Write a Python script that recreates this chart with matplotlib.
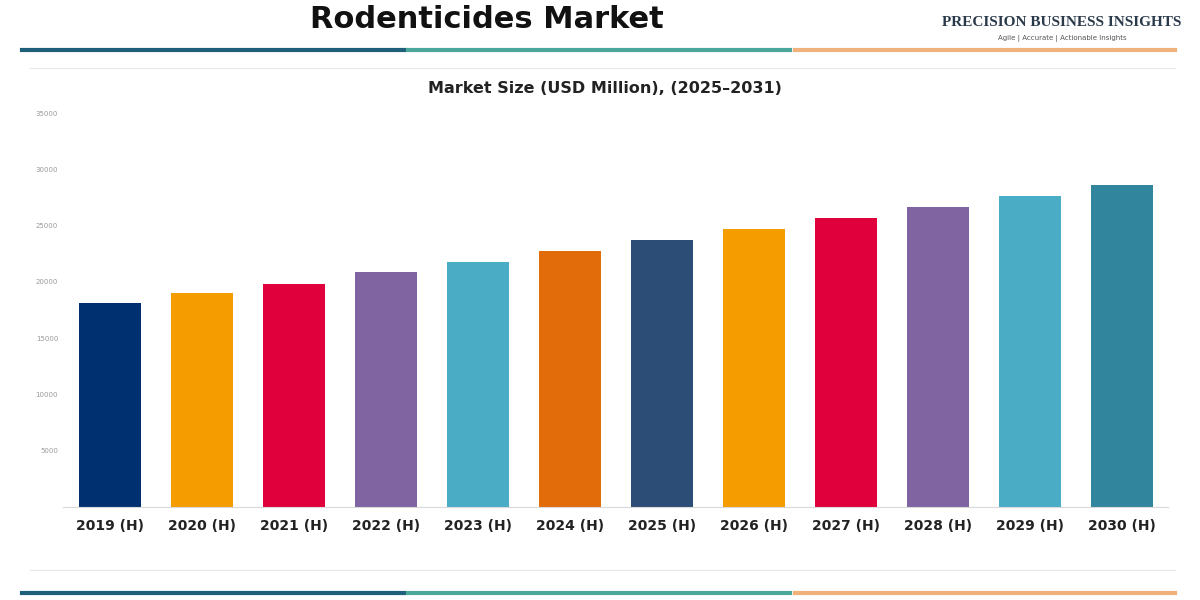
import matplotlib
matplotlib.use("Agg")
import matplotlib.pyplot as plt
from matplotlib.lines import Line2D

categories = ["2019 (H)", "2020 (H)", "2021 (H)", "2022 (H)", "2023 (H)", "2024 (H)",
              "2025 (H)", "2026 (H)", "2027 (H)", "2028 (H)", "2029 (H)", "2030 (H)"]
values = [18100, 19000, 19800, 20900, 21750, 22750, 23700, 24700, 25650, 26650, 27600, 28600]
colors = ["#003070", "#f59c00", "#e0003c", "#8064a2", "#4bacc6", "#e36c0a",
          "#2c4d75", "#f59c00", "#e0003c", "#8064a2", "#4bacc6", "#31859c"]
yticks = [0, 5000, 10000, 15000, 20000, 25000, 30000, 35000]
ytick_labels = ["", "5000", "10000", "15000", "20000", "25000", "30000", "35000"]

fig = plt.figure(figsize=(12, 6), dpi=100)
ax = fig.add_axes([63/1200, 1-507/600, (1168-63)/1200, (507-113)/600])
x = range(len(categories))
ax.bar(x, values, width=0.67, color=colors)
ax.set_xlim(-0.51, 11.5)
ax.set_ylim(0, 35000)
ax.set_yticks(yticks)
ax.set_yticklabels(ytick_labels, fontsize=5, color="#999999")
ax.set_xticks(list(x))
ax.set_xticklabels(categories, fontsize=10, fontweight="bold", color="#222222")
ax.tick_params(axis="both", length=0)
ax.tick_params(axis="x", pad=9)
for s in ["top", "right", "left"]:
    ax.spines[s].set_visible(False)
ax.spines["bottom"].set_color("#d9d9d9")

fig.text(605/1200, 1-88/600, "Market Size (USD Million), (2025\u20132031)", ha="center", va="center",
         fontsize=11.5, color="#222222", fontweight="semibold")
fig.text(487/1200, 1-19/600, "Rodenticides Market", ha="center", va="center",
         fontsize=22, fontweight="bold", color="#111111")
fig.text(1062/1200, 1-23/600, "PRECISION BUSINESS INSIGHTS", ha="center", va="center",
         fontsize=11, fontweight="bold", family="Liberation Serif", color="#2a3a4a")
fig.text(1062/1200, 1-39/600, "Agile | Accurate | Actionable Insights", ha="center", va="center",
         fontsize=5, color="#555555")

def band(y):
    segs = [(22, 405, "#1f5f7a"), (408, 790, "#4aa89a"), (795, 1175, "#f0b27a")]
    for x0, x1, c in segs:
        fig.add_artist(Line2D([x0/1200, x1/1200], [1-y/600, 1-y/600], color=c, lw=3,
                              transform=fig.transFigure))
band(50)
band(593)
for y in (68, 570):
    fig.add_artist(Line2D([30/1200, 1175/1200], [1-y/600, 1-y/600], color="#e8e8e8", lw=0.8,
                          transform=fig.transFigure))

fig.savefig("out.png", dpi=100)
